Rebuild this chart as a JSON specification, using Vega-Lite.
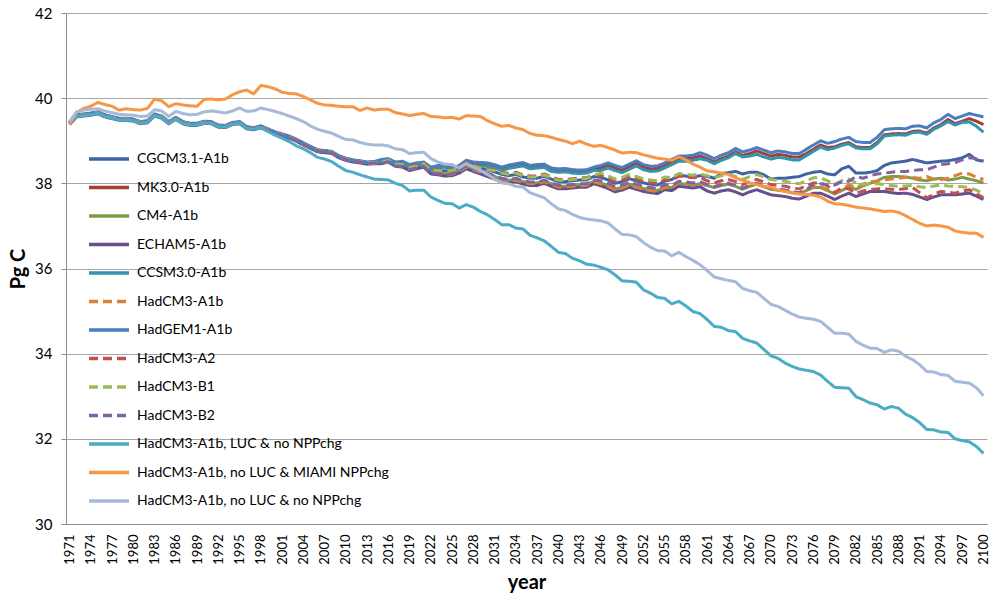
{
  "$schema": "https://vega.github.io/schema/vega-lite/v6.json",
  "autosize": {"type": "none"},
  "padding": {"left": 66, "top": 13, "right": 5, "bottom": 77},
  "width": 921,
  "height": 511,
  "background": "white",
  "datasets": {
    "carbon": [
      {"y":1971,"c":39.42,"k":39.42,"m":39.41,"e":39.38,"s":39.41,"h":39.40,"g":39.43,"a":39.41,"b":39.41,"p":39.40,"l":39.39,"o":39.40,"n":39.45},
      {"y":1972,"c":39.60,"k":39.60,"m":39.59,"e":39.56,"s":39.59,"h":39.58,"g":39.61,"a":39.59,"b":39.59,"p":39.58,"l":39.57,"o":39.66,"n":39.68},
      {"y":1973,"c":39.62,"k":39.62,"m":39.61,"e":39.58,"s":39.61,"h":39.60,"g":39.63,"a":39.61,"b":39.61,"p":39.60,"l":39.59,"o":39.76,"n":39.72},
      {"y":1974,"c":39.64,"k":39.64,"m":39.63,"e":39.60,"s":39.63,"h":39.62,"g":39.65,"a":39.63,"b":39.63,"p":39.62,"l":39.61,"o":39.81,"n":39.74},
      {"y":1975,"c":39.67,"k":39.67,"m":39.66,"e":39.63,"s":39.66,"h":39.65,"g":39.68,"a":39.66,"b":39.66,"p":39.65,"l":39.64,"o":39.90,"n":39.75},
      {"y":1976,"c":39.60,"k":39.60,"m":39.59,"e":39.56,"s":39.59,"h":39.58,"g":39.61,"a":39.59,"b":39.59,"p":39.58,"l":39.57,"o":39.85,"n":39.70},
      {"y":1977,"c":39.56,"k":39.56,"m":39.55,"e":39.52,"s":39.55,"h":39.54,"g":39.57,"a":39.55,"b":39.55,"p":39.54,"l":39.53,"o":39.81,"n":39.66},
      {"y":1978,"c":39.52,"k":39.52,"m":39.51,"e":39.48,"s":39.51,"h":39.50,"g":39.53,"a":39.51,"b":39.51,"p":39.50,"l":39.49,"o":39.72,"n":39.62},
      {"y":1979,"c":39.52,"k":39.52,"m":39.51,"e":39.48,"s":39.51,"h":39.50,"g":39.53,"a":39.51,"b":39.51,"p":39.50,"l":39.49,"o":39.75,"n":39.61},
      {"y":1980,"c":39.50,"k":39.50,"m":39.49,"e":39.46,"s":39.49,"h":39.48,"g":39.51,"a":39.49,"b":39.49,"p":39.48,"l":39.47,"o":39.73,"n":39.60},
      {"y":1981,"c":39.44,"k":39.44,"m":39.43,"e":39.40,"s":39.43,"h":39.42,"g":39.45,"a":39.43,"b":39.43,"p":39.42,"l":39.41,"o":39.72,"n":39.57},
      {"y":1982,"c":39.46,"k":39.46,"m":39.45,"e":39.42,"s":39.45,"h":39.44,"g":39.47,"a":39.45,"b":39.45,"p":39.44,"l":39.43,"o":39.76,"n":39.58},
      {"y":1983,"c":39.62,"k":39.62,"m":39.61,"e":39.58,"s":39.61,"h":39.60,"g":39.63,"a":39.61,"b":39.61,"p":39.60,"l":39.59,"o":39.98,"n":39.73},
      {"y":1984,"c":39.57,"k":39.57,"m":39.56,"e":39.53,"s":39.56,"h":39.55,"g":39.58,"a":39.56,"b":39.56,"p":39.55,"l":39.54,"o":39.94,"n":39.70},
      {"y":1985,"c":39.44,"k":39.44,"m":39.43,"e":39.40,"s":39.43,"h":39.42,"g":39.45,"a":39.43,"b":39.43,"p":39.42,"l":39.41,"o":39.80,"n":39.57},
      {"y":1986,"c":39.54,"k":39.54,"m":39.53,"e":39.50,"s":39.53,"h":39.52,"g":39.55,"a":39.53,"b":39.53,"p":39.52,"l":39.51,"o":39.87,"n":39.69},
      {"y":1987,"c":39.44,"k":39.44,"m":39.43,"e":39.40,"s":39.43,"h":39.42,"g":39.45,"a":39.43,"b":39.43,"p":39.42,"l":39.41,"o":39.84,"n":39.64},
      {"y":1988,"c":39.40,"k":39.40,"m":39.39,"e":39.36,"s":39.39,"h":39.38,"g":39.41,"a":39.39,"b":39.39,"p":39.38,"l":39.37,"o":39.82,"n":39.61},
      {"y":1989,"c":39.40,"k":39.40,"m":39.39,"e":39.36,"s":39.39,"h":39.38,"g":39.41,"a":39.39,"b":39.39,"p":39.38,"l":39.37,"o":39.81,"n":39.62},
      {"y":1990,"c":39.45,"k":39.45,"m":39.44,"e":39.41,"s":39.44,"h":39.43,"g":39.46,"a":39.44,"b":39.44,"p":39.43,"l":39.42,"o":39.97,"n":39.68},
      {"y":1991,"c":39.44,"k":39.44,"m":39.43,"e":39.40,"s":39.43,"h":39.42,"g":39.45,"a":39.43,"b":39.43,"p":39.42,"l":39.41,"o":39.98,"n":39.70},
      {"y":1992,"c":39.36,"k":39.36,"m":39.35,"e":39.32,"s":39.35,"h":39.34,"g":39.37,"a":39.35,"b":39.35,"p":39.34,"l":39.33,"o":39.96,"n":39.68},
      {"y":1993,"c":39.35,"k":39.35,"m":39.34,"e":39.31,"s":39.34,"h":39.33,"g":39.36,"a":39.34,"b":39.34,"p":39.33,"l":39.32,"o":39.98,"n":39.65},
      {"y":1994,"c":39.42,"k":39.42,"m":39.41,"e":39.38,"s":39.41,"h":39.40,"g":39.43,"a":39.41,"b":39.41,"p":39.40,"l":39.39,"o":40.08,"n":39.70},
      {"y":1995,"c":39.44,"k":39.44,"m":39.43,"e":39.40,"s":39.43,"h":39.42,"g":39.45,"a":39.43,"b":39.43,"p":39.42,"l":39.41,"o":40.15,"n":39.77},
      {"y":1996,"c":39.32,"k":39.32,"m":39.31,"e":39.28,"s":39.31,"h":39.30,"g":39.33,"a":39.31,"b":39.31,"p":39.30,"l":39.29,"o":40.19,"n":39.69},
      {"y":1997,"c":39.30,"k":39.30,"m":39.29,"e":39.26,"s":39.29,"h":39.28,"g":39.31,"a":39.29,"b":39.29,"p":39.28,"l":39.27,"o":40.10,"n":39.70},
      {"y":1998,"c":39.34,"k":39.34,"m":39.33,"e":39.30,"s":39.33,"h":39.32,"g":39.35,"a":39.33,"b":39.33,"p":39.32,"l":39.31,"o":40.30,"n":39.77},
      {"y":1999,"c":39.27,"k":39.27,"m":39.26,"e":39.23,"s":39.26,"h":39.25,"g":39.28,"a":39.26,"b":39.26,"p":39.25,"l":39.22,"o":40.27,"n":39.73},
      {"y":2000,"c":39.20,"k":39.20,"m":39.19,"e":39.16,"s":39.19,"h":39.18,"g":39.21,"a":39.19,"b":39.19,"p":39.18,"l":39.13,"o":40.22,"n":39.69},
      {"y":2001,"c":39.15,"k":39.15,"m":39.14,"e":39.11,"s":39.14,"h":39.13,"g":39.16,"a":39.14,"b":39.14,"p":39.13,"l":39.06,"o":40.14,"n":39.64},
      {"y":2002,"c":39.10,"k":39.10,"m":39.09,"e":39.06,"s":39.09,"h":39.08,"g":39.11,"a":39.09,"b":39.09,"p":39.08,"l":38.98,"o":40.11,"n":39.58},
      {"y":2003,"c":39.03,"k":39.03,"m":39.02,"e":38.99,"s":39.02,"h":39.01,"g":39.04,"a":39.02,"b":39.02,"p":39.01,"l":38.88,"o":40.10,"n":39.52},
      {"y":2004,"c":38.94,"k":38.94,"m":38.93,"e":38.90,"s":38.93,"h":38.92,"g":38.95,"a":38.93,"b":38.93,"p":38.92,"l":38.81,"o":40.04,"n":39.45},
      {"y":2005,"c":38.86,"k":38.86,"m":38.85,"e":38.82,"s":38.85,"h":38.84,"g":38.87,"a":38.85,"b":38.85,"p":38.84,"l":38.72,"o":39.96,"n":39.35},
      {"y":2006,"c":38.78,"k":38.78,"m":38.77,"e":38.74,"s":38.77,"h":38.76,"g":38.79,"a":38.77,"b":38.77,"p":38.76,"l":38.61,"o":39.88,"n":39.27},
      {"y":2007,"c":38.76,"k":38.76,"m":38.75,"e":38.72,"s":38.75,"h":38.74,"g":38.77,"a":38.75,"b":38.75,"p":38.74,"l":38.57,"o":39.84,"n":39.22},
      {"y":2008,"c":38.74,"k":38.74,"m":38.73,"e":38.70,"s":38.73,"h":38.72,"g":38.75,"a":38.73,"b":38.73,"p":38.72,"l":38.51,"o":39.83,"n":39.18},
      {"y":2009,"c":38.64,"k":38.64,"m":38.63,"e":38.60,"s":38.63,"h":38.62,"g":38.65,"a":38.63,"b":38.63,"p":38.62,"l":38.40,"o":39.81,"n":39.10},
      {"y":2010,"c":38.58,"k":38.58,"m":38.57,"e":38.54,"s":38.57,"h":38.56,"g":38.59,"a":38.57,"b":38.57,"p":38.56,"l":38.30,"o":39.80,"n":39.03},
      {"y":2011,"c":38.54,"k":38.54,"m":38.53,"e":38.50,"s":38.53,"h":38.52,"g":38.55,"a":38.53,"b":38.53,"p":38.52,"l":38.26,"o":39.80,"n":39.02},
      {"y":2012,"c":38.52,"k":38.52,"m":38.51,"e":38.48,"s":38.51,"h":38.50,"g":38.53,"a":38.51,"b":38.51,"p":38.50,"l":38.20,"o":39.71,"n":38.96},
      {"y":2013,"c":38.49,"k":38.49,"m":38.48,"e":38.45,"s":38.48,"h":38.47,"g":38.50,"a":38.48,"b":38.48,"p":38.47,"l":38.15,"o":39.77,"n":38.92},
      {"y":2014,"c":38.50,"k":38.50,"m":38.49,"e":38.46,"s":38.49,"h":38.48,"g":38.51,"a":38.49,"b":38.49,"p":38.48,"l":38.10,"o":39.72,"n":38.90},
      {"y":2015,"c":38.51,"k":38.53,"m":38.50,"e":38.46,"s":38.50,"h":38.48,"g":38.56,"a":38.50,"b":38.50,"p":38.47,"l":38.09,"o":39.74,"n":38.90},
      {"y":2016,"c":38.55,"k":38.55,"m":38.54,"e":38.50,"s":38.53,"h":38.52,"g":38.58,"a":38.54,"b":38.54,"p":38.51,"l":38.08,"o":39.74,"n":38.88},
      {"y":2017,"c":38.46,"k":38.47,"m":38.44,"e":38.40,"s":38.45,"h":38.42,"g":38.50,"a":38.45,"b":38.45,"p":38.41,"l":38.00,"o":39.66,"n":38.81},
      {"y":2018,"c":38.45,"k":38.49,"m":38.42,"e":38.38,"s":38.46,"h":38.41,"g":38.52,"a":38.45,"b":38.44,"p":38.40,"l":37.95,"o":39.63,"n":38.79},
      {"y":2019,"c":38.38,"k":38.41,"m":38.35,"e":38.30,"s":38.38,"h":38.33,"g":38.44,"a":38.38,"b":38.37,"p":38.32,"l":37.82,"o":39.59,"n":38.70},
      {"y":2020,"c":38.43,"k":38.45,"m":38.39,"e":38.34,"s":38.42,"h":38.37,"g":38.48,"a":38.43,"b":38.41,"p":38.36,"l":37.84,"o":39.62,"n":38.72},
      {"y":2021,"c":38.48,"k":38.47,"m":38.43,"e":38.38,"s":38.44,"h":38.41,"g":38.50,"a":38.48,"b":38.46,"p":38.40,"l":37.84,"o":39.64,"n":38.73},
      {"y":2022,"c":38.32,"k":38.35,"m":38.27,"e":38.22,"s":38.32,"h":38.25,"g":38.38,"a":38.33,"b":38.31,"p":38.24,"l":37.68,"o":39.57,"n":38.58},
      {"y":2023,"c":38.31,"k":38.39,"m":38.25,"e":38.20,"s":38.36,"h":38.23,"g":38.42,"a":38.32,"b":38.30,"p":38.23,"l":37.60,"o":39.56,"n":38.50},
      {"y":2024,"c":38.29,"k":38.41,"m":38.22,"e":38.17,"s":38.38,"h":38.20,"g":38.44,"a":38.31,"b":38.29,"p":38.21,"l":37.53,"o":39.54,"n":38.45},
      {"y":2025,"c":38.30,"k":38.33,"m":38.23,"e":38.18,"s":38.30,"h":38.21,"g":38.36,"a":38.32,"b":38.30,"p":38.22,"l":37.52,"o":39.55,"n":38.44},
      {"y":2026,"c":38.38,"k":38.37,"m":38.30,"e":38.24,"s":38.34,"h":38.28,"g":38.42,"a":38.39,"b":38.37,"p":38.31,"l":37.42,"o":39.51,"n":38.36},
      {"y":2027,"c":38.48,"k":38.49,"m":38.40,"e":38.34,"s":38.46,"h":38.38,"g":38.54,"a":38.49,"b":38.47,"p":38.41,"l":37.50,"o":39.59,"n":38.46},
      {"y":2028,"c":38.42,"k":38.45,"m":38.34,"e":38.28,"s":38.42,"h":38.32,"g":38.50,"a":38.43,"b":38.41,"p":38.35,"l":37.44,"o":39.58,"n":38.38},
      {"y":2029,"c":38.36,"k":38.44,"m":38.28,"e":38.22,"s":38.41,"h":38.26,"g":38.49,"a":38.38,"b":38.36,"p":38.29,"l":37.34,"o":39.57,"n":38.30},
      {"y":2030,"c":38.31,"k":38.43,"m":38.22,"e":38.16,"s":38.40,"h":38.20,"g":38.48,"a":38.34,"b":38.32,"p":38.23,"l":37.26,"o":39.47,"n":38.21},
      {"y":2031,"c":38.27,"k":38.39,"m":38.16,"e":38.10,"s":38.36,"h":38.14,"g":38.44,"a":38.32,"b":38.30,"p":38.18,"l":37.15,"o":39.40,"n":38.10},
      {"y":2032,"c":38.21,"k":38.33,"m":38.10,"e":38.04,"s":38.30,"h":38.08,"g":38.38,"a":38.26,"b":38.24,"p":38.12,"l":37.03,"o":39.34,"n":38.01},
      {"y":2033,"c":38.18,"k":38.38,"m":38.07,"e":38.01,"s":38.35,"h":38.05,"g":38.43,"a":38.23,"b":38.21,"p":38.09,"l":37.03,"o":39.36,"n":37.99},
      {"y":2034,"c":38.21,"k":38.41,"m":38.10,"e":38.04,"s":38.38,"h":38.08,"g":38.46,"a":38.26,"b":38.24,"p":38.12,"l":36.95,"o":39.30,"n":37.93},
      {"y":2035,"c":38.15,"k":38.44,"m":38.04,"e":37.98,"s":38.41,"h":38.02,"g":38.49,"a":38.20,"b":38.18,"p":38.06,"l":36.93,"o":39.26,"n":37.91},
      {"y":2036,"c":38.12,"k":38.37,"m":38.01,"e":37.95,"s":38.34,"h":37.99,"g":38.42,"a":38.17,"b":38.15,"p":38.03,"l":36.78,"o":39.17,"n":37.78},
      {"y":2037,"c":38.12,"k":38.39,"m":38.01,"e":37.95,"s":38.36,"h":37.99,"g":38.44,"a":38.17,"b":38.15,"p":38.03,"l":36.72,"o":39.13,"n":37.72},
      {"y":2038,"c":38.17,"k":38.40,"m":38.06,"e":38.00,"s":38.37,"h":38.04,"g":38.45,"a":38.22,"b":38.20,"p":38.08,"l":36.65,"o":39.12,"n":37.66},
      {"y":2039,"c":38.10,"k":38.31,"m":37.99,"e":37.93,"s":38.28,"h":37.97,"g":38.36,"a":38.15,"b":38.13,"p":38.01,"l":36.52,"o":39.08,"n":37.52},
      {"y":2040,"c":38.04,"k":38.29,"m":37.93,"e":37.87,"s":38.26,"h":37.91,"g":38.34,"a":38.09,"b":38.07,"p":37.95,"l":36.38,"o":39.03,"n":37.40},
      {"y":2041,"c":38.04,"k":38.30,"m":37.93,"e":37.87,"s":38.27,"h":37.91,"g":38.35,"a":38.09,"b":38.07,"p":37.95,"l":36.35,"o":38.99,"n":37.36},
      {"y":2042,"c":38.06,"k":38.27,"m":37.95,"e":37.89,"s":38.24,"h":37.93,"g":38.32,"a":38.11,"b":38.09,"p":37.97,"l":36.24,"o":38.93,"n":37.27},
      {"y":2043,"c":38.08,"k":38.26,"m":37.97,"e":37.91,"s":38.23,"h":37.95,"g":38.31,"a":38.13,"b":38.11,"p":37.99,"l":36.18,"o":38.99,"n":37.20},
      {"y":2044,"c":38.08,"k":38.27,"m":37.97,"e":37.91,"s":38.24,"h":37.95,"g":38.32,"a":38.13,"b":38.11,"p":37.99,"l":36.10,"o":38.92,"n":37.16},
      {"y":2045,"c":38.16,"k":38.33,"m":38.05,"e":37.99,"s":38.30,"h":38.03,"g":38.38,"a":38.21,"b":38.19,"p":38.07,"l":36.08,"o":38.87,"n":37.14},
      {"y":2046,"c":38.14,"k":38.36,"m":38.01,"e":37.94,"s":38.30,"h":37.99,"g":38.42,"a":38.18,"b":38.24,"p":38.06,"l":36.03,"o":38.89,"n":37.12},
      {"y":2047,"c":38.08,"k":38.42,"m":37.95,"e":37.88,"s":38.36,"h":37.93,"g":38.48,"a":38.12,"b":38.18,"p":38.00,"l":35.97,"o":38.84,"n":37.07},
      {"y":2048,"c":38.00,"k":38.36,"m":37.87,"e":37.80,"s":38.30,"h":37.85,"g":38.42,"a":38.04,"b":38.10,"p":37.92,"l":35.85,"o":38.78,"n":36.93},
      {"y":2049,"c":38.04,"k":38.31,"m":37.91,"e":37.84,"s":38.25,"h":37.89,"g":38.37,"a":38.08,"b":38.14,"p":37.96,"l":35.71,"o":38.71,"n":36.80},
      {"y":2050,"c":38.11,"k":38.39,"m":37.98,"e":37.91,"s":38.33,"h":37.96,"g":38.45,"a":38.15,"b":38.21,"p":38.03,"l":35.70,"o":38.73,"n":36.79},
      {"y":2051,"c":38.06,"k":38.47,"m":37.93,"e":37.86,"s":38.41,"h":37.91,"g":38.53,"a":38.10,"b":38.16,"p":37.98,"l":35.68,"o":38.72,"n":36.75},
      {"y":2052,"c":38.01,"k":38.38,"m":37.88,"e":37.81,"s":38.32,"h":37.86,"g":38.44,"a":38.05,"b":38.11,"p":37.93,"l":35.50,"o":38.67,"n":36.61},
      {"y":2053,"c":37.98,"k":38.34,"m":37.85,"e":37.78,"s":38.28,"h":37.83,"g":38.40,"a":38.02,"b":38.08,"p":37.90,"l":35.42,"o":38.63,"n":36.50},
      {"y":2054,"c":37.96,"k":38.35,"m":37.83,"e":37.76,"s":38.29,"h":37.81,"g":38.41,"a":38.00,"b":38.06,"p":37.88,"l":35.32,"o":38.59,"n":36.42},
      {"y":2055,"c":38.05,"k":38.42,"m":37.92,"e":37.85,"s":38.36,"h":37.90,"g":38.48,"a":38.09,"b":38.15,"p":37.97,"l":35.30,"o":38.57,"n":36.41},
      {"y":2056,"c":38.09,"k":38.50,"m":37.90,"e":37.83,"s":38.44,"h":37.90,"g":38.56,"a":38.07,"b":38.13,"p":37.95,"l":35.17,"o":38.54,"n":36.30},
      {"y":2057,"c":38.19,"k":38.58,"m":38.00,"e":37.93,"s":38.52,"h":38.02,"g":38.64,"a":38.17,"b":38.23,"p":38.05,"l":35.23,"o":38.62,"n":36.38},
      {"y":2058,"c":38.17,"k":38.58,"m":37.98,"e":37.91,"s":38.52,"h":38.00,"g":38.64,"a":38.15,"b":38.21,"p":38.03,"l":35.12,"o":38.55,"n":36.28},
      {"y":2059,"c":38.15,"k":38.60,"m":37.96,"e":37.89,"s":38.54,"h":37.98,"g":38.66,"a":38.13,"b":38.19,"p":38.01,"l":34.99,"o":38.45,"n":36.19},
      {"y":2060,"c":38.18,"k":38.64,"m":37.99,"e":37.92,"s":38.58,"h":38.00,"g":38.72,"a":38.14,"b":38.22,"p":38.04,"l":34.94,"o":38.38,"n":36.09},
      {"y":2061,"c":38.16,"k":38.58,"m":37.95,"e":37.82,"s":38.54,"h":37.97,"g":38.66,"a":38.06,"b":38.18,"p":37.97,"l":34.80,"o":38.29,"n":35.95},
      {"y":2062,"c":38.12,"k":38.50,"m":37.90,"e":37.77,"s":38.46,"h":37.92,"g":38.58,"a":38.01,"b":38.13,"p":37.92,"l":34.64,"o":38.27,"n":35.80},
      {"y":2063,"c":38.23,"k":38.58,"m":37.95,"e":37.82,"s":38.54,"h":37.97,"g":38.66,"a":38.06,"b":38.18,"p":37.97,"l":34.62,"o":38.24,"n":35.76},
      {"y":2064,"c":38.25,"k":38.64,"m":37.98,"e":37.85,"s":38.60,"h":38.00,"g":38.72,"a":38.09,"b":38.21,"p":38.00,"l":34.54,"o":38.21,"n":35.72},
      {"y":2065,"c":38.28,"k":38.74,"m":37.93,"e":37.80,"s":38.70,"h":37.95,"g":38.82,"a":38.04,"b":38.16,"p":37.95,"l":34.52,"o":38.13,"n":35.69},
      {"y":2066,"c":38.22,"k":38.66,"m":37.86,"e":37.73,"s":38.62,"h":37.88,"g":38.74,"a":37.97,"b":38.09,"p":37.88,"l":34.36,"o":38.07,"n":35.53},
      {"y":2067,"c":38.26,"k":38.70,"m":37.93,"e":37.80,"s":38.64,"h":37.95,"g":38.78,"a":38.04,"b":38.16,"p":37.95,"l":34.30,"o":38.01,"n":35.48},
      {"y":2068,"c":38.26,"k":38.76,"m":37.98,"e":37.85,"s":38.68,"h":38.00,"g":38.84,"a":38.09,"b":38.21,"p":38.00,"l":34.25,"o":37.97,"n":35.44},
      {"y":2069,"c":38.20,"k":38.70,"m":37.92,"e":37.79,"s":38.62,"h":37.94,"g":38.78,"a":38.03,"b":38.15,"p":37.94,"l":34.10,"o":37.93,"n":35.30},
      {"y":2070,"c":38.10,"k":38.64,"m":37.86,"e":37.73,"s":38.57,"h":37.88,"g":38.72,"a":37.97,"b":38.09,"p":37.88,"l":33.95,"o":37.90,"n":35.16},
      {"y":2071,"c":38.12,"k":38.68,"m":37.84,"e":37.71,"s":38.61,"h":37.86,"g":38.76,"a":37.95,"b":38.07,"p":37.86,"l":33.89,"o":37.84,"n":35.11},
      {"y":2072,"c":38.12,"k":38.66,"m":37.82,"e":37.69,"s":38.59,"h":37.84,"g":38.74,"a":37.93,"b":38.05,"p":37.84,"l":33.78,"o":37.81,"n":35.02},
      {"y":2073,"c":38.14,"k":38.62,"m":37.78,"e":37.65,"s":38.55,"h":37.80,"g":38.70,"a":37.89,"b":38.01,"p":37.80,"l":33.70,"o":37.78,"n":34.93},
      {"y":2074,"c":38.16,"k":38.62,"m":37.76,"e":37.63,"s":38.55,"h":37.78,"g":38.70,"a":37.87,"b":37.99,"p":37.78,"l":33.64,"o":37.75,"n":34.86},
      {"y":2075,"c":38.22,"k":38.70,"m":37.83,"e":37.70,"s":38.65,"h":37.85,"g":38.80,"a":37.94,"b":38.06,"p":37.85,"l":33.61,"o":37.74,"n":34.83},
      {"y":2076,"c":38.26,"k":38.80,"m":37.90,"e":37.77,"s":38.75,"h":37.92,"g":38.90,"a":38.01,"b":38.13,"p":37.97,"l":33.58,"o":37.72,"n":34.81},
      {"y":2077,"c":38.28,"k":38.90,"m":37.90,"e":37.77,"s":38.85,"h":37.92,"g":39.00,"a":38.01,"b":38.13,"p":37.99,"l":33.50,"o":37.68,"n":34.76},
      {"y":2078,"c":38.22,"k":38.84,"m":37.83,"e":37.70,"s":38.79,"h":37.85,"g":38.94,"a":37.94,"b":38.06,"p":37.96,"l":33.35,"o":37.58,"n":34.62},
      {"y":2079,"c":38.20,"k":38.86,"m":37.75,"e":37.62,"s":38.83,"h":37.77,"g":38.98,"a":37.78,"b":37.98,"p":37.96,"l":33.21,"o":37.52,"n":34.48},
      {"y":2080,"c":38.34,"k":38.92,"m":37.83,"e":37.70,"s":38.89,"h":37.85,"g":39.04,"a":37.90,"b":38.06,"p":38.04,"l":33.20,"o":37.51,"n":34.48},
      {"y":2081,"c":38.40,"k":38.96,"m":37.92,"e":37.77,"s":38.93,"h":37.97,"g":39.08,"a":37.87,"b":38.10,"p":38.05,"l":33.19,"o":37.48,"n":34.46},
      {"y":2082,"c":38.24,"k":38.86,"m":37.86,"e":37.69,"s":38.83,"h":37.90,"g":38.98,"a":37.77,"b":38.02,"p":38.16,"l":32.99,"o":37.44,"n":34.29},
      {"y":2083,"c":38.24,"k":38.84,"m":37.94,"e":37.75,"s":38.81,"h":37.98,"g":38.96,"a":37.82,"b":37.97,"p":38.12,"l":32.92,"o":37.42,"n":34.20},
      {"y":2084,"c":38.26,"k":38.84,"m":38.00,"e":37.81,"s":38.81,"h":38.04,"g":38.96,"a":37.85,"b":37.99,"p":38.18,"l":32.84,"o":37.40,"n":34.13},
      {"y":2085,"c":38.30,"k":38.96,"m":38.06,"e":37.81,"s":38.93,"h":38.05,"g":39.08,"a":37.87,"b":37.99,"p":38.22,"l":32.80,"o":37.37,"n":34.12},
      {"y":2086,"c":38.42,"k":39.14,"m":38.14,"e":37.81,"s":39.11,"h":38.08,"g":39.26,"a":37.87,"b":37.97,"p":38.24,"l":32.70,"o":37.34,"n":34.03},
      {"y":2087,"c":38.48,"k":39.16,"m":38.16,"e":37.78,"s":39.13,"h":38.10,"g":39.28,"a":37.86,"b":37.95,"p":38.26,"l":32.76,"o":37.35,"n":34.09},
      {"y":2088,"c":38.50,"k":39.17,"m":38.16,"e":37.76,"s":39.14,"h":38.12,"g":39.29,"a":37.85,"b":37.93,"p":38.28,"l":32.72,"o":37.32,"n":34.06},
      {"y":2089,"c":38.52,"k":39.16,"m":38.15,"e":37.77,"s":39.13,"h":38.14,"g":39.28,"a":37.88,"b":37.94,"p":38.28,"l":32.58,"o":37.24,"n":33.94},
      {"y":2090,"c":38.56,"k":39.22,"m":38.12,"e":37.74,"s":39.19,"h":38.14,"g":39.34,"a":37.90,"b":37.95,"p":38.30,"l":32.50,"o":37.15,"n":33.86},
      {"y":2091,"c":38.52,"k":39.23,"m":38.08,"e":37.68,"s":39.20,"h":38.12,"g":39.35,"a":37.78,"b":37.92,"p":38.32,"l":32.38,"o":37.06,"n":33.74},
      {"y":2092,"c":38.48,"k":39.18,"m":38.06,"e":37.62,"s":39.15,"h":38.16,"g":39.30,"a":37.66,"b":37.90,"p":38.32,"l":32.22,"o":37.00,"n":33.58},
      {"y":2093,"c":38.50,"k":39.30,"m":38.10,"e":37.68,"s":39.27,"h":38.10,"g":39.42,"a":37.74,"b":37.94,"p":38.38,"l":32.21,"o":37.02,"n":33.57},
      {"y":2094,"c":38.52,"k":39.38,"m":38.12,"e":37.73,"s":39.35,"h":38.09,"g":39.50,"a":37.81,"b":37.96,"p":38.44,"l":32.16,"o":37.00,"n":33.51},
      {"y":2095,"c":38.53,"k":39.50,"m":38.08,"e":37.73,"s":39.45,"h":38.12,"g":39.62,"a":37.79,"b":37.94,"p":38.46,"l":32.15,"o":36.97,"n":33.49},
      {"y":2096,"c":38.56,"k":39.40,"m":38.10,"e":37.73,"s":39.37,"h":38.18,"g":39.52,"a":37.77,"b":37.93,"p":38.49,"l":32.00,"o":36.88,"n":33.35},
      {"y":2097,"c":38.60,"k":39.46,"m":38.14,"e":37.75,"s":39.43,"h":38.24,"g":39.58,"a":37.82,"b":37.92,"p":38.55,"l":31.96,"o":36.85,"n":33.33},
      {"y":2098,"c":38.68,"k":39.52,"m":38.10,"e":37.77,"s":39.44,"h":38.22,"g":39.64,"a":37.85,"b":37.90,"p":38.60,"l":31.93,"o":36.83,"n":33.31},
      {"y":2099,"c":38.55,"k":39.46,"m":38.06,"e":37.70,"s":39.34,"h":38.14,"g":39.60,"a":37.76,"b":37.84,"p":38.58,"l":31.82,"o":36.83,"n":33.20},
      {"y":2100,"c":38.52,"k":39.38,"m":38.01,"e":37.62,"s":39.20,"h":38.09,"g":39.56,"a":37.66,"b":37.76,"p":38.52,"l":31.66,"o":36.73,"n":33.01}
    ],
    "names": [
      {"code":"c","name":"CGCM3.1-A1b"},
      {"code":"k","name":"MK3.0-A1b"},
      {"code":"m","name":"CM4-A1b"},
      {"code":"e","name":"ECHAM5-A1b"},
      {"code":"s","name":"CCSM3.0-A1b"},
      {"code":"h","name":"HadCM3-A1b"},
      {"code":"g","name":"HadGEM1-A1b"},
      {"code":"a","name":"HadCM3-A2"},
      {"code":"b","name":"HadCM3-B1"},
      {"code":"p","name":"HadCM3-B2"},
      {"code":"l","name":"HadCM3-A1b, LUC & no NPPchg"},
      {"code":"o","name":"HadCM3-A1b, no LUC & MIAMI NPPchg"},
      {"code":"n","name":"HadCM3-A1b, no LUC & no NPPchg"}
    ]
  },
  "data": {"name": "carbon"},
  "transform": [
    {"fold": ["c","k","m","e","s","h","g","a","b","p","l","o","n"], "as": ["code","v"]},
    {"lookup": "code", "from": {"data": {"name": "names"}, "key": "code", "fields": ["name"]}}
  ],
  "mark": {"type": "line", "strokeWidth": 3, "strokeJoin": "round"},
  "encoding": {
    "x": {
      "field": "y", "type": "quantitative",
      "scale": {"domain": [1970.5, 2100.5], "nice": false, "zero": false},
      "axis": {
        "title": "year",
        "values": [1971,1974,1977,1980,1983,1986,1989,1992,1995,1998,2001,2004,2007,2010,2013,2016,2019,2022,2025,2028,2031,2034,2037,2040,2043,2046,2049,2052,2055,2058,2061,2064,2067,2070,2073,2076,2079,2082,2085,2088,2091,2094,2097,2100],
        "format": "d",
        "labelAngle": -90,
        "labelFontSize": 13,
        "labelPadding": 10,
        "labelFlush": false,
        "labelOverlap": false,
        "grid": false,
        "ticks": false,
        "tickSize": 0,
        "titlePadding": 8
      }
    },
    "y": {
      "field": "v", "type": "quantitative",
      "scale": {"domain": [30, 42], "nice": false, "zero": false},
      "axis": {
        "title": "Pg C",
        "values": [30,32,34,36,38,40,42],
        "format": "d",
        "labelFontSize": 15,
        "labelPadding": 9,
        "tickSize": 5,
        "grid": true,
        "titlePadding": 6
      }
    },
    "color": {
      "field": "name", "type": "nominal",
      "scale": {
        "domain": ["CGCM3.1-A1b","MK3.0-A1b","CM4-A1b","ECHAM5-A1b","CCSM3.0-A1b","HadCM3-A1b","HadGEM1-A1b","HadCM3-A2","HadCM3-B1","HadCM3-B2","HadCM3-A1b, LUC & no NPPchg","HadCM3-A1b, no LUC & MIAMI NPPchg","HadCM3-A1b, no LUC & no NPPchg"],
        "range": ["#3E65A3","#A53D3B","#7E9C45","#674E8E","#3196AA","#DA8136","#4A7EC0","#C4504D","#9BBB59","#8064A2","#4BACC6","#F79646","#A5B9D9"]
      },
      "legend": {"orient": "none", "legendX": 21, "legendY": 138, "title": null}
    },
    "strokeDash": {
      "field": "name", "type": "nominal",
      "scale": {
        "domain": ["CGCM3.1-A1b","MK3.0-A1b","CM4-A1b","ECHAM5-A1b","CCSM3.0-A1b","HadCM3-A1b","HadGEM1-A1b","HadCM3-A2","HadCM3-B1","HadCM3-B2","HadCM3-A1b, LUC & no NPPchg","HadCM3-A1b, no LUC & MIAMI NPPchg","HadCM3-A1b, no LUC & no NPPchg"],
        "range": [[1,0],[1,0],[1,0],[1,0],[1,0],[9,5],[1,0],[9,5],[9,5],[9,5],[1,0],[1,0],[1,0]]
      },
      "legend": {"orient": "none", "legendX": 21, "legendY": 138, "title": null}
    }
  },
  "config": {
    "font": "Lato",
    "view": {"stroke": null},
    "axis": {
      "labelFont": "Lato",
      "labelColor": "#000000",
      "titleFont": "Lato",
      "titleFontSize": 20,
      "titleFontWeight": "bold",
      "titleColor": "#000000",
      "domainColor": "#8C8C8C",
      "domainWidth": 1,
      "tickColor": "#8C8C8C",
      "gridColor": "#A6A6A6",
      "gridWidth": 1
    },
    "legend": {
      "symbolType": "stroke",
      "symbolSize": 1600,
      "symbolStrokeWidth": 3.5,
      "labelFont": "Lato",
      "labelFontSize": 14,
      "labelColor": "#000000",
      "labelLimit": 400,
      "labelOffset": 6,
      "rowPadding": 12.5,
      "clipHeight": 16
    }
  }
}
